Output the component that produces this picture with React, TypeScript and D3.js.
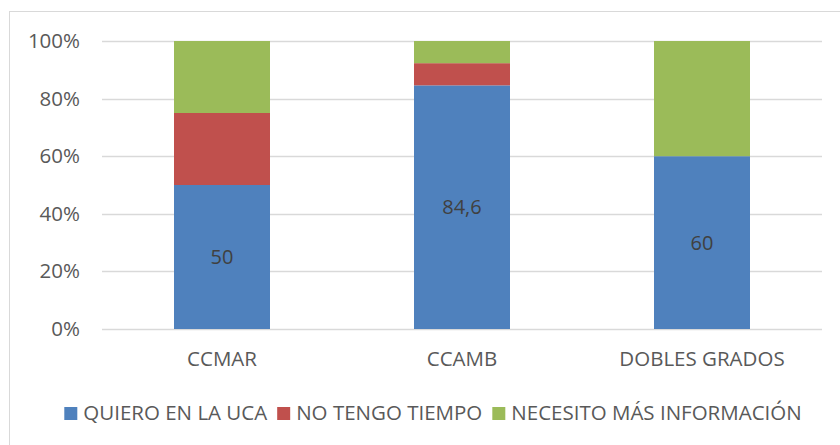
import * as d3 from "d3";
import { useEffect, useRef } from "react";

const categories = ["CCMAR", "CCAMB", "DOBLES GRADOS"];
const seriesKeys = ["QUIERO EN LA UCA", "NO TENGO TIEMPO", "NECESITO MÁS INFORMACIÓN"];
const quieroValues = [50, 84.6, 60];
const noTiempoValues = [25, 7.7, 0];
const necesitoValues = [25, 7.7, 40];
const yTicks = [0, 20, 40, 60, 80, 100];

const seriesColors = ["#4F81BD", "#C0504D", "#9BBB59"];
const width = 840;
const height = 445;
const margin = { top: 41, right: 18, bottom: 116, left: 102 };
const fontFamily = "'Open Sans', 'Liberation Sans', sans-serif";

export default function App() {
  const svgRef = useRef<SVGSVGElement | null>(null);

  useEffect(() => {
    if (!svgRef.current) return;
    drawChart(svgRef.current);
  }, []);

  return (
    <svg
      ref={svgRef}
      width={width}
      height={height}
      style={{ position: "absolute", left: 0, top: 0, background: "#fff" }}
    />
  );
}

function drawChart(svgElement: SVGSVGElement) {
  const svg = d3.select(svgElement);
  svg.selectAll("*").remove();

  const plotRight = width - margin.right;
  const plotBottom = height - margin.bottom;

  const rows = categories.map((category, i) => ({
    category,
    [seriesKeys[0]]: quieroValues[i],
    [seriesKeys[1]]: noTiempoValues[i],
    [seriesKeys[2]]: necesitoValues[i],
  }));

  const xScale = d3
    .scaleBand()
    .domain(categories)
    .range([margin.left, plotRight])
    .paddingInner(0.6)
    .paddingOuter(0.3);
  const yScale = d3.scaleLinear().domain([0, 100]).range([plotBottom, margin.top]);

  // chart frame (only left and top edges fall inside the picture)
  svg
    .append("rect")
    .attr("x", 9.5)
    .attr("y", 11.5)
    .attr("width", 900)
    .attr("height", 500)
    .attr("fill", "none")
    .attr("stroke", "#D9D9D9")
    .attr("stroke-width", 1);

  svg
    .append("g")
    .selectAll("line")
    .data(yTicks)
    .join("line")
    .attr("x1", margin.left)
    .attr("x2", plotRight)
    .attr("y1", (d) => Math.round(yScale(d)) + 0.5)
    .attr("y2", (d) => Math.round(yScale(d)) + 0.5)
    .attr("stroke", "#D9D9D9")
    .attr("stroke-width", 1.5);

  const yAxis = d3
    .axisLeft(yScale)
    .tickValues(yTicks)
    .tickSize(0)
    .tickPadding(22)
    .tickFormat((d) => `${d}%`);
  svg
    .append("g")
    .attr("transform", `translate(${margin.left}, 0)`)
    .call(yAxis)
    .call((g) => g.select(".domain").remove())
    .call((g) =>
      g
        .selectAll("text")
        .attr("fill", "#595959")
        .style("font-family", fontFamily)
        .style("font-size", "20.5px")
    );

  const stacked = d3.stack<any>().keys(seriesKeys)(rows);

  svg
    .append("g")
    .selectAll("g")
    .data(stacked)
    .join("g")
    .attr("fill", (_, i) => seriesColors[i])
    .selectAll("rect")
    .data((s) => s)
    .join("rect")
    .attr("x", (d) => xScale(d.data.category) as number)
    .attr("width", xScale.bandwidth())
    .attr("y", (d) => yScale(d[1]))
    .attr("height", (d) => yScale(d[0]) - yScale(d[1]));

  svg
    .append("g")
    .selectAll("text")
    .data(stacked[0])
    .join("text")
    .attr("x", (d) => (xScale(d.data.category) as number) + xScale.bandwidth() / 2)
    .attr("y", (d) => (yScale(d[0]) + yScale(d[1])) / 2)
    .attr("dy", "0.35em")
    .attr("text-anchor", "middle")
    .attr("fill", "#404040")
    .style("font-family", fontFamily)
    .style("font-size", "20px")
    .text((d) => String(d[1] - d[0]).replace(".", ","));

  const xAxis = d3.axisBottom(xScale).tickSize(0).tickPadding(22);
  svg
    .append("g")
    .attr("transform", `translate(0, ${plotBottom})`)
    .call(xAxis)
    .call((g) => g.select(".domain").remove())
    .call((g) =>
      g
        .selectAll("text")
        .attr("fill", "#595959")
        .style("font-family", fontFamily)
        .style("font-size", "20.5px")
    );

  // legend, laid out from measured text widths and centred
  const legend = svg.append("g").attr("transform", "translate(0, 420)");
  const items = legend
    .selectAll("g")
    .data(seriesKeys)
    .join("g");
  items
    .append("rect")
    .attr("y", -13)
    .attr("width", 13)
    .attr("height", 13)
    .attr("fill", (_, i) => seriesColors[i]);
  items
    .append("text")
    .attr("x", 19)
    .attr("fill", "#595959")
    .style("font-family", fontFamily)
    .style("font-size", "20.5px")
    .text((d) => d);

  const widths: number[] = [];
  items.each(function () {
    const t = d3.select(this).select("text").node() as SVGTextElement;
    widths.push(19 + t.getComputedTextLength());
  });
  const gap = 10;
  const total = d3.sum(widths) + gap * (widths.length - 1);
  let cursor = (width - total) / 2 + 13;
  items.attr("transform", (_, i) => {
    const x = cursor;
    cursor += widths[i] + gap;
    return `translate(${x}, 0)`;
  });
}
